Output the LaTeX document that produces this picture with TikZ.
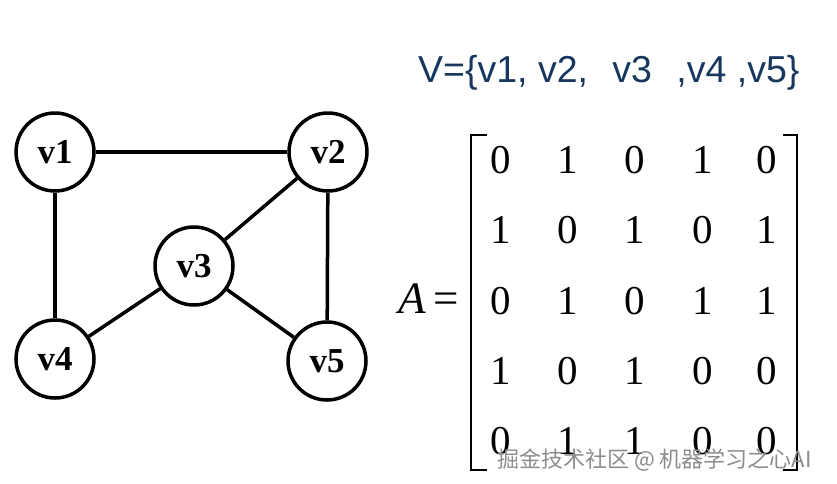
\documentclass[tikz,border=0pt]{standalone}
\usepackage{fontspec}
\setmainfont{Liberation Serif}
\newfontfamily\sansf{Liberation Sans}
\newfontfamily\cjkf{Noto Sans CJK SC}
\definecolor{settext}{HTML}{17375E}
\definecolor{wmgray}{HTML}{8C8C8C}
\tikzset{
  vert/.style={circle,draw,line width=3.5pt,minimum size=78pt,inner sep=0pt,font=\fontsize{35}{36}\selectfont\bfseries},
  edge/.style={line width=3.5pt},
  entry/.style={anchor=base,inner sep=0pt,font=\fontsize{41}{41}\selectfont},
  brack/.style={line width=2.5pt}
}
\begin{document}
\begin{tikzpicture}[x=1pt,y=-1pt]
\useasboundingbox (0,0) rectangle (837,483);
% graph
\node[vert] (v1) at (55,152) {v1};
\node[vert] (v2) at (328,152) {v2};
\node[vert] (v3) at (194,266) {v3};
\node[vert] (v4) at (55,359) {v4};
\node[vert] (v5) at (327,361) {v5};
\draw[edge] (v1) -- (v2);
\draw[edge] (v1) -- (v4);
\draw[edge] (v2) -- (v5);
\draw[edge] (v2) -- (v3);
\draw[edge] (v3) -- (v4);
\draw[edge] (v3) -- (v5);
% vertex set
\node[anchor=base west,inner sep=0pt,text=settext,font=\sansf\fontsize{37.5}{38}\selectfont] (vset) at (418,82) {V=\{v1, v2,\hspace{0.65em}v3\hspace{0.65em},v4 ,v5\}};
% matrix label
\node[anchor=base east,inner sep=0pt,font=\fontsize{45}{45}\selectfont] (alabel) at (459,313) {\itshape A\,\upshape=};
% brackets
\coordinate (lt) at (487,135); \coordinate (lb) at (487,470);
\coordinate (rt) at (783,135); \coordinate (rb) at (783,470);
\draw[brack] (lt) -- ++(-16,0) |- (lb);
\draw[brack] (rt) -- ++(14,0) |- (rb);
% entries
\foreach \r/\y/\vals in {1/173/{0,1,0,1,0},2/243/{1,0,1,0,1},3/314/{0,1,0,1,1},4/384/{1,0,1,0,0},5/454/{0,1,1,0,0}}{
  \foreach \v [count=\c] in \vals {
    \pgfmathsetmacro{\xx}{{500.7,567.7,635,703,766.7}[\c-1]}
    \node[entry] (m\r\c) at (\xx,\y) {\v};
  }
}
% watermark
\node[anchor=base west,inner sep=0pt,text=wmgray,font=\cjkf\fontsize{22}{22}\selectfont] (wm) at (497,467) {掘金技术社区 @ 机器学习之心AI};
\end{tikzpicture}
\end{document}
